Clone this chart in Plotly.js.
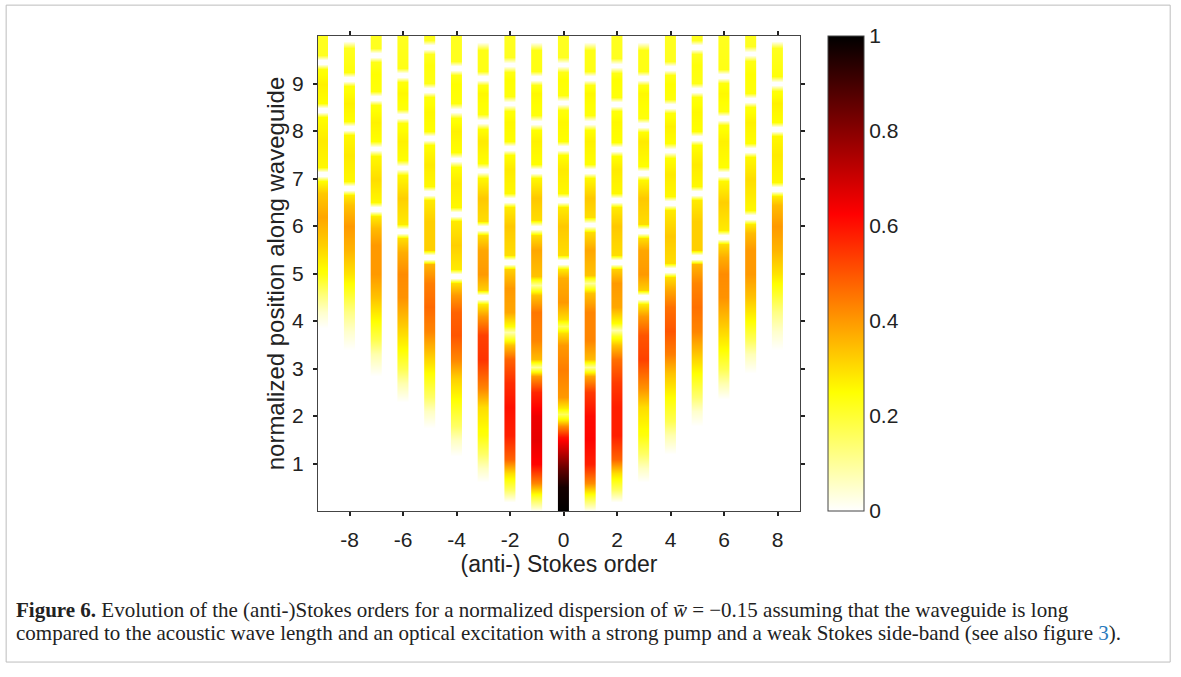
<!DOCTYPE html>
<html>
<head>
<meta charset="utf-8">
<script src="https://cdn.plot.ly/plotly-3.0.1.min.js"></script>
<style>html,body{margin:0;padding:0;background:#fff;}#chart{width:1181px;height:677px;}</style>
</head>
<body>
<div id="chart"></div>
<script>
// Stokes orders (columns)
const orders = [-9,-8,-7,-6,-5,-4,-3,-2,-1,0,1,2,3,4,5,6,7,8];
const xTickVals = [-8,-6,-4,-2,0,2,4,6,8];
const xTickText = ['-8','-6','-4','-2','0','2','4','6','8'];
const yTickVals = [1,2,3,4,5,6,7,8,9];
const cbTickVals = [0,0.2,0.4,0.6,0.8,1];
const cbTickText = ['0','0.2','0.4','0.6','0.8','1'];

// normalized intensity profiles along the waveguide (position y, value z)
const y_m9 = [0,3.85,4.2,4.6,5.0,5.6,6.2,6.7,6.95,7.06,7.14,7.25,7.8,8.29,8.4,8.48,8.59,9.0,9.3,9.41,9.49,9.6,10];
const z_m9 = [0,0,0.05,0.14,0.24,0.32,0.38,0.33,0.25,0,0,0.26,0.28,0.25,0,0,0.25,0.27,0.24,0,0,0.22,0.22];
const y_m8 = [0,3.4,3.8,4.2,4.6,5.0,5.5,6.0,6.45,6.65,6.76,6.84,6.95,7.5,7.92,8.03,8.11,8.22,8.6,8.95,9.06,9.14,9.25,9.75,9.9,10];
const z_m8 = [0,0,0.05,0.12,0.21,0.29,0.36,0.4,0.34,0.28,0,0,0.26,0.28,0.26,0,0,0.25,0.27,0.24,0,0,0.24,0.22,0,0];
const y_m7 = [0,2.85,3.3,3.6,4.0,4.5,5.0,5.6,5.95,6.21,6.32,6.4,6.51,7.0,7.48,7.59,7.67,7.78,8.2,8.54,8.65,8.73,8.84,9.2,9.45,9.56,9.64,9.75,10];
const z_m7 = [0,0,0.08,0.17,0.25,0.34,0.4,0.4,0.35,0.28,0,0,0.26,0.3,0.26,0,0,0.25,0.27,0.24,0,0,0.24,0.25,0.23,0,0,0.22,0.22];
const y_m6 = [0,2.3,2.7,3.0,3.4,4.0,4.5,5.0,5.45,5.75,5.86,5.94,6.05,6.6,7.08,7.19,7.27,7.38,7.8,8.17,8.28,8.36,8.47,8.8,9.03,9.14,9.22,9.33,10];
const z_m6 = [0,0,0.08,0.17,0.25,0.34,0.41,0.42,0.37,0.3,0,0,0.28,0.32,0.26,0,0,0.25,0.27,0.24,0,0,0.24,0.26,0.24,0,0,0.23,0.22];
const y_m5 = [0,1.75,2.1,2.4,2.9,3.4,3.8,4.3,4.8,5.2,5.31,5.39,5.5,6.1,6.55,6.66,6.74,6.85,7.3,7.7,7.81,7.89,8.0,8.4,8.72,8.83,8.91,9.02,9.4,9.62,9.73,9.81,9.92,10];
const z_m5 = [0,0,0.06,0.15,0.25,0.35,0.43,0.47,0.44,0.36,0,0,0.32,0.32,0.28,0,0,0.26,0.28,0.25,0,0,0.25,0.26,0.24,0,0,0.23,0.24,0.22,0,0,0.22,0.22];
const y_m4 = [0,1.15,1.5,1.8,2.3,2.8,3.2,3.7,4.2,4.55,4.8,4.91,4.99,5.1,5.6,6.1,6.21,6.29,6.4,6.9,7.25,7.36,7.44,7.55,8.0,8.28,8.39,8.47,8.58,9.0,9.17,9.28,9.36,9.47,10];
const z_m4 = [0,0,0.06,0.15,0.24,0.32,0.43,0.5,0.48,0.4,0.3,0,0,0.28,0.32,0.28,0,0,0.26,0.28,0.25,0,0,0.25,0.27,0.24,0,0,0.24,0.25,0.23,0,0,0.22,0.22];
const y_m3 = [0,0.62,0.9,1.2,1.6,2.2,2.6,3.2,3.7,4.1,4.35,4.46,4.54,4.65,5.0,5.5,5.81,5.92,6.0,6.11,6.6,7.02,7.13,7.21,7.32,7.8,8.05,8.16,8.24,8.35,8.8,8.96,9.07,9.15,9.26,9.7,9.88,10];
const z_m3 = [0,0,0.06,0.15,0.24,0.3,0.43,0.55,0.53,0.4,0.28,0,0,0.32,0.4,0.38,0.3,0,0,0.3,0.33,0.26,0,0,0.25,0.28,0.25,0,0,0.24,0.26,0.23,0,0,0.23,0.23,0,0];
const y_m2 = [0,0.18,0.45,0.8,1.1,1.6,2.2,2.7,3.2,3.5,3.62,3.76,3.9,4.2,4.7,5.09,5.2,5.28,5.39,6.0,6.4,6.51,6.59,6.7,7.2,7.49,7.6,7.68,7.79,8.2,8.43,8.54,8.62,8.73,9.1,9.25,9.36,9.44,9.55,10];
const z_m2 = [0,0,0.15,0.3,0.48,0.58,0.6,0.56,0.48,0.34,0.22,0.08,0.25,0.38,0.4,0.32,0,0,0.3,0.33,0.28,0,0,0.26,0.28,0.25,0,0,0.25,0.26,0.24,0,0,0.24,0.25,0.23,0,0,0.22,0.22];
const y_m1 = [0,0.06,0.3,0.6,1.0,1.5,2.0,2.5,2.85,3.03,3.2,3.6,4.2,4.55,4.75,4.95,5.5,5.82,5.93,6.01,6.12,6.6,7.01,7.12,7.2,7.31,7.8,8.03,8.14,8.22,8.33,8.8,8.97,9.08,9.16,9.27,9.7,9.88,10];
const z_m1 = [0,0.05,0.2,0.43,0.62,0.66,0.65,0.57,0.4,0.1,0.35,0.43,0.45,0.34,0.1,0.34,0.38,0.3,0,0,0.3,0.33,0.26,0,0,0.25,0.27,0.25,0,0,0.24,0.26,0.23,0,0,0.23,0.23,0,0];
const y_p0 = [0,0.5,0.9,1.25,1.55,1.8,1.92,2.04,2.16,2.4,3.0,3.5,3.75,3.9,4.05,4.4,4.9,5.1,5.21,5.29,5.4,6.0,6.4,6.51,6.59,6.7,7.2,7.5,7.61,7.69,7.8,8.2,8.45,8.56,8.64,8.75,9.1,9.25,9.36,9.44,9.55,10];
const z_p0 = [1,0.97,0.85,0.72,0.6,0.42,0.28,0.16,0.28,0.4,0.44,0.4,0.3,0.16,0.3,0.4,0.37,0.28,0,0,0.3,0.33,0.28,0,0,0.26,0.28,0.25,0,0,0.25,0.26,0.24,0,0,0.24,0.25,0.23,0,0,0.22,0.22];
const y_p1 = [0,0.06,0.3,0.6,1.0,1.5,2.0,2.5,2.85,3.03,3.2,3.6,4.2,4.6,4.79,4.97,5.5,5.88,5.99,6.07,6.18,6.6,7.01,7.12,7.2,7.31,7.8,8.03,8.14,8.22,8.33,8.8,8.97,9.08,9.16,9.27,9.7,9.88,10];
const z_p1 = [0,0.05,0.2,0.42,0.58,0.62,0.61,0.54,0.38,0.1,0.35,0.43,0.43,0.34,0.1,0.34,0.38,0.3,0,0,0.3,0.33,0.26,0,0,0.25,0.27,0.25,0,0,0.24,0.26,0.23,0,0,0.23,0.23,0,0];
const y_p2 = [0,0.2,0.45,0.8,1.1,1.6,2.2,2.7,3.2,3.5,3.68,3.82,3.96,4.3,4.8,5.1,5.21,5.29,5.4,6.0,6.4,6.51,6.59,6.7,7.2,7.47,7.58,7.66,7.77,8.2,8.42,8.53,8.61,8.72,9.1,9.23,9.34,9.42,9.53,10];
const z_p2 = [0,0,0.15,0.3,0.48,0.58,0.58,0.54,0.46,0.34,0.22,0.08,0.25,0.38,0.4,0.32,0,0,0.3,0.33,0.28,0,0,0.26,0.28,0.25,0,0,0.25,0.26,0.24,0,0,0.24,0.25,0.23,0,0,0.22,0.22];
const y_p3 = [0,0.62,0.9,1.2,1.6,2.2,2.6,3.2,3.7,4.1,4.35,4.46,4.54,4.65,5.0,5.5,5.75,5.86,5.94,6.05,6.6,6.97,7.08,7.16,7.27,7.8,7.98,8.09,8.17,8.28,8.8,8.97,9.08,9.16,9.27,9.7,9.88,10];
const z_p3 = [0,0,0.06,0.15,0.24,0.3,0.41,0.53,0.5,0.4,0.28,0,0,0.32,0.4,0.38,0.3,0,0,0.3,0.33,0.26,0,0,0.25,0.28,0.25,0,0,0.24,0.26,0.23,0,0,0.23,0.23,0,0];
const y_p4 = [0,1.2,1.6,1.9,2.4,2.9,3.3,3.8,4.3,4.65,4.93,5.04,5.12,5.23,5.8,6.34,6.45,6.53,6.64,7.1,7.44,7.55,7.63,7.74,8.1,8.38,8.49,8.57,8.68,9.0,9.18,9.29,9.37,9.48,10];
const z_p4 = [0,0,0.08,0.17,0.25,0.34,0.44,0.5,0.46,0.38,0.3,0,0,0.3,0.33,0.28,0,0,0.26,0.28,0.25,0,0,0.25,0.27,0.24,0,0,0.24,0.25,0.23,0,0,0.22,0.22];
const y_p5 = [0,1.8,2.1,2.4,2.9,3.4,3.8,4.3,4.8,5.2,5.31,5.39,5.5,6.1,6.55,6.66,6.74,6.85,7.3,7.7,7.81,7.89,8.0,8.4,8.72,8.83,8.91,9.02,9.4,9.62,9.73,9.81,9.92,10];
const z_p5 = [0,0,0.05,0.14,0.25,0.35,0.43,0.46,0.43,0.36,0,0,0.32,0.32,0.28,0,0,0.26,0.28,0.25,0,0,0.25,0.26,0.24,0,0,0.23,0.24,0.22,0,0,0.22,0.22];
const y_p6 = [0,2.35,2.7,3.0,3.4,4.0,4.5,5.0,5.35,5.62,5.73,5.81,5.92,6.5,6.95,7.06,7.14,7.25,7.8,8.12,8.23,8.31,8.42,8.8,9.01,9.12,9.2,9.31,10];
const z_p6 = [0,0,0.08,0.17,0.25,0.34,0.41,0.42,0.37,0.3,0,0,0.28,0.32,0.26,0,0,0.25,0.27,0.24,0,0,0.24,0.26,0.24,0,0,0.23,0.22];
const y_p7 = [0,2.9,3.3,3.6,4.0,4.5,5.0,5.5,5.85,6.04,6.15,6.23,6.34,7.0,7.45,7.56,7.64,7.75,8.2,8.5,8.61,8.69,8.8,9.2,9.48,9.59,9.67,9.78,10];
const z_p7 = [0,0,0.07,0.16,0.25,0.34,0.4,0.4,0.35,0.28,0,0,0.26,0.3,0.26,0,0,0.25,0.27,0.24,0,0,0.24,0.25,0.23,0,0,0.22,0.22];
const y_p8 = [0,3.4,3.8,4.2,4.6,5.0,5.5,6.0,6.45,6.63,6.74,6.82,6.93,7.5,7.9,8.01,8.09,8.2,8.6,8.85,8.96,9.04,9.15,9.75,9.9,10];
const z_p8 = [0,0,0.05,0.12,0.21,0.29,0.36,0.4,0.35,0.28,0,0,0.26,0.28,0.26,0,0,0.25,0.27,0.24,0,0,0.24,0.22,0,0];

const profiles = [
  [y_m9,z_m9],[y_m8,z_m8],[y_m7,z_m7],[y_m6,z_m6],[y_m5,z_m5],[y_m4,z_m4],
  [y_m3,z_m3],[y_m2,z_m2],[y_m1,z_m1],[y_p0,z_p0],[y_p1,z_p1],[y_p2,z_p2],
  [y_p3,z_p3],[y_p4,z_p4],[y_p5,z_p5],[y_p6,z_p6],[y_p7,z_p7],[y_p8,z_p8]
];

// reversed "hot" colormap: white -> yellow -> red -> black
const hotReversed = [[0,'rgb(255,255,255)'],[0.25,'rgb(255,255,0)'],[0.625,'rgb(255,0,0)'],[1,'rgb(0,0,0)']];

const HALF = 0.105;
const traces = orders.map((k, i) => {
  const ys = profiles[i][0], zs = profiles[i][1];
  return {
    type: 'heatmap',
    x: [k - HALF, k + HALF],
    y: ys,
    z: zs.map(v => [v, v]),
    zsmooth: 'best',
    coloraxis: 'coloraxis',
    hoverinfo: 'skip'
  };
});

const F = 'Liberation Sans, Arial, Helvetica, sans-serif';
const SERIF = 'Liberation Serif, Times New Roman, serif';

const layout = {
  width: 1181, height: 677,
  margin: {l: 318, r: 381, t: 36, b: 166},
  paper_bgcolor: '#fff', plot_bgcolor: '#fff',
  showlegend: false,
  font: {family: F, color: '#222', size: 21},
  xaxis: {
    range: [-9.18, 8.84], tickvals: xTickVals, ticktext: xTickText, ticks: 'outside', ticklen: 4, tickwidth: 1.5, tickcolor: '#222',
    showline: true, linecolor: '#444', linewidth: 1, mirror: 'ticks', showgrid: false, zeroline: false,
    tickfont: {family: F, size: 21, color: '#222'}, ticklabelstandoff: 6,
    title: {text: '(anti-) Stokes order', font: {family: F, size: 23, color: '#222'}, standoff: 5}
  },
  yaxis: {
    range: [0, 10], tickvals: yTickVals, ticks: 'outside', ticklen: 4, tickwidth: 1.5, tickcolor: '#222',
    showline: true, linecolor: '#444', linewidth: 1, mirror: 'ticks', showgrid: false, zeroline: false,
    tickfont: {family: F, size: 21, color: '#222'}, ticklabelstandoff: 5,
    title: {text: 'normalized position along waveguide', font: {family: F, size: 24, color: '#222'}, standoff: 0}
  },
  coloraxis: {
    cmin: 0, cmax: 1, colorscale: hotReversed,
    colorbar: {
      x: 1.058, xanchor: 'left', y: 0.5, yanchor: 'middle', len: 1, lenmode: 'fraction',
      thickness: 36, thicknessmode: 'pixels', xpad: 0, ypad: 0,
      outlinewidth: 1, outlinecolor: '#444',
      tickvals: cbTickVals, ticktext: cbTickText, ticks: '',
      tickfont: {family: F, size: 21, color: '#222'}
    }
  },
  shapes: [
    {type: 'rect', xref: 'paper', yref: 'paper', x0: -0.647, x1: 1.768, y0: -0.318, y1: 1.065,
     line: {color: '#bdbdbd', width: 1}, fillcolor: 'rgba(0,0,0,0)'}
  ],
  annotations: [
    {xref: 'paper', yref: 'paper', x: -0.631, y: -0.2084, xanchor: 'left', yanchor: 'middle', showarrow: false, align: 'left',
     font: {family: SERIF, size: 21, color: '#222'},
     text: '<b>Figure 6.</b> Evolution of the (anti-)Stokes orders for a normalized dispersion of <i>w̄</i> = −0.15 assuming that the waveguide is long'},
    {xref: 'paper', yref: 'paper', x: -0.631, y: -0.257, xanchor: 'left', yanchor: 'middle', showarrow: false, align: 'left',
     font: {family: SERIF, size: 21, color: '#222'},
     text: 'compared to the acoustic wave length and an optical excitation with a strong pump and a weak Stokes side-band (see also figure <span style="color:#2b7bbd">3</span>).'}
  ]
};

Plotly.newPlot('chart', traces, layout, {displayModeBar: false, responsive: false});
</script>
</body>
</html>
